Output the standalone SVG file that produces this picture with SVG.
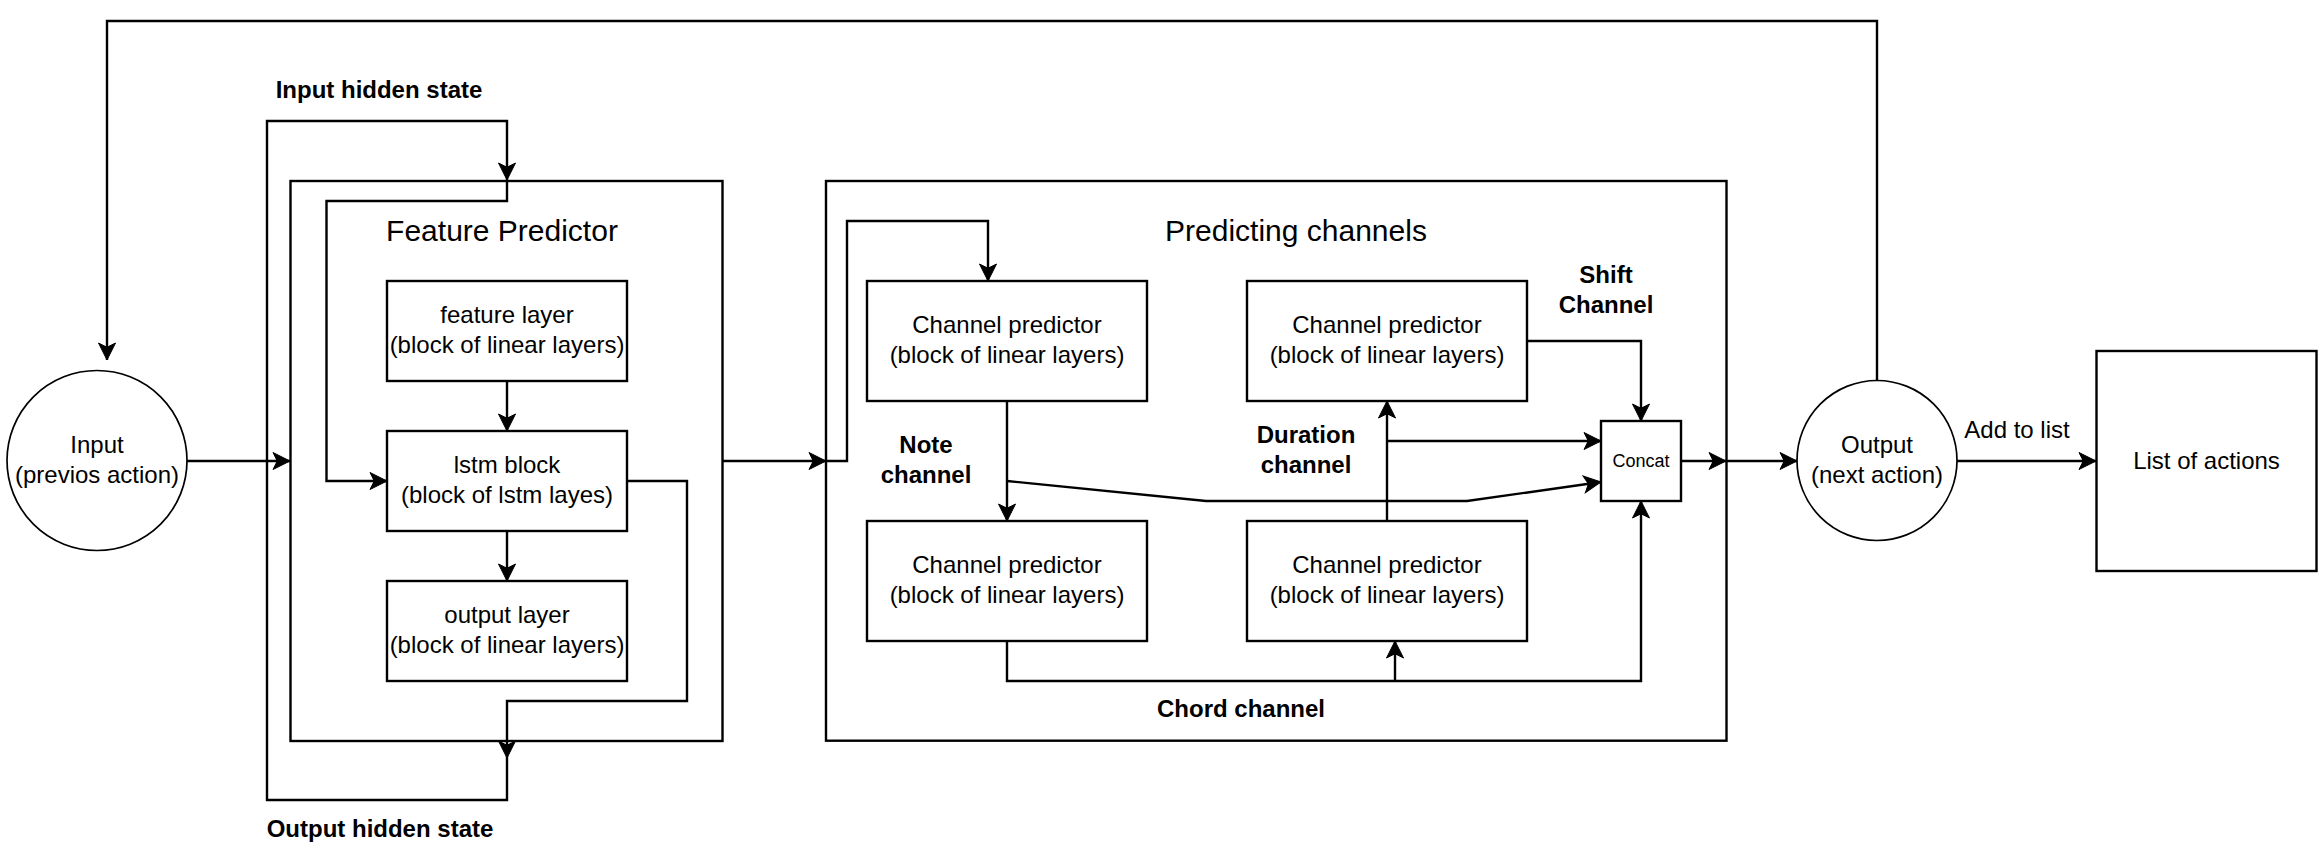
<svg xmlns="http://www.w3.org/2000/svg" width="2324" height="868" viewBox="0 0 2324 868">
<style>
.bx{fill:#fff;stroke:#000;stroke-width:2.4}
.el{fill:#fff;stroke:#000;stroke-width:1.7}
.ln{fill:none;stroke:#000;stroke-width:2.4;marker-end:url(#arr)}
.pl{fill:none;stroke:#000;stroke-width:2.4}
text{font-family:"Liberation Sans",Arial,sans-serif;fill:#000;text-anchor:middle}
.t{font-size:24px}
.b{font-size:24px;font-weight:bold}
.h{font-size:30px}
.s{font-size:18px}
</style>
<defs>
<marker id="arr" markerUnits="userSpaceOnUse" markerWidth="22" markerHeight="22" viewBox="-20 -11 22 22" refX="0" refY="0" orient="auto">
<path d="M0,0 L-17,-8.5 L-12.75,0 L-17,8.5 Z" fill="#000" stroke="#000" stroke-width="1"/>
</marker>
</defs>
<rect width="2324" height="868" fill="#fff"/>
<g id="feature-predictor">
<rect class="bx" x="290.5" y="181" width="432" height="560"/>
<text class="h" x="502" y="241">Feature Predictor</text>
</g>
<g id="predicting-channels">
<rect class="bx" x="826" y="181" width="900.5" height="559.7"/>
<text class="h" x="1296" y="241">Predicting channels</text>
</g>
<g id="connectors">
<path class="ln" d="M187,461 L290,461"/>
<path class="ln" d="M507,381 L507,431"/>
<path class="ln" d="M507,531 L507,581"/>
<path class="ln" d="M627,481 L687,481 L687,701 L507,701 L507,758"/>
<path class="ln" d="M507,758 L507,800 L267,800 L267,121 L507,121 L507,180"/>
<path class="ln" d="M507,181 L507,201 L326.5,201 L326.5,481 L387,481"/>
<path class="ln" d="M722.5,461 L826,461"/>
<path class="ln" d="M826,461 L847,461 L847,221 L988,221 L988,281"/>
<path class="ln" d="M1007,401 L1007,521"/>
<path class="ln" d="M1007,481 L1206,501 L1467,501 L1601,482"/>
<path class="ln" d="M1007,641 L1007,681 L1641,681 L1641,501"/>
<path class="ln" d="M1395,681 L1395,641"/>
<path class="ln" d="M1387,521 L1387,401"/>
<path class="ln" d="M1387,441 L1601,441"/>
<path class="ln" d="M1527,341 L1641,341 L1641,421"/>
<path class="ln" d="M1681,461 L1726,461"/>
<path class="ln" d="M1726,461 L1797,461"/>
<path class="ln" d="M1957,461 L2096,461"/>
<path class="ln" d="M1877,380 L1877,21 L107,21 L107,360"/>
</g>
<g id="input">
<circle class="el" cx="97" cy="460.5" r="90"/>
<text class="t" x="97" y="452.8">Input</text>
<text class="t" x="97" y="482.8">(previos action)</text>
</g>
<g id="feature-layer">
<rect class="bx" x="387" y="281" width="240" height="100"/>
<text class="t" x="507" y="323.3">feature layer</text>
<text class="t" x="507" y="353.3">(block of linear layers)</text>
</g>
<g id="lstm-block">
<rect class="bx" x="387" y="431" width="240" height="100"/>
<text class="t" x="507" y="473.3">lstm block</text>
<text class="t" x="507" y="503.3">(block of lstm layes)</text>
</g>
<g id="output-layer">
<rect class="bx" x="387" y="581" width="240" height="100"/>
<text class="t" x="507" y="623.3">output layer</text>
<text class="t" x="507" y="653.3">(block of linear layers)</text>
</g>
<g id="cp-note">
<rect class="bx" x="867" y="281" width="280" height="120"/>
<text class="t" x="1007" y="333.3">Channel predictor</text>
<text class="t" x="1007" y="363.3">(block of linear layers)</text>
</g>
<g id="cp-shift">
<rect class="bx" x="1247" y="281" width="280" height="120"/>
<text class="t" x="1387" y="333.3">Channel predictor</text>
<text class="t" x="1387" y="363.3">(block of linear layers)</text>
</g>
<g id="cp-chord">
<rect class="bx" x="867" y="521" width="280" height="120"/>
<text class="t" x="1007" y="573.3">Channel predictor</text>
<text class="t" x="1007" y="603.3">(block of linear layers)</text>
</g>
<g id="cp-duration">
<rect class="bx" x="1247" y="521" width="280" height="120"/>
<text class="t" x="1387" y="573.3">Channel predictor</text>
<text class="t" x="1387" y="603.3">(block of linear layers)</text>
</g>
<g id="concat">
<rect class="bx" x="1601" y="421" width="80" height="80"/>
<text class="s" x="1641" y="467.4">Concat</text>
</g>
<g id="output">
<circle class="el" cx="1877" cy="460.5" r="80"/>
<text class="t" x="1877" y="452.8">Output</text>
<text class="t" x="1877" y="482.8">(next action)</text>
</g>
<g id="list-of-actions">
<rect class="bx" x="2096.5" y="351" width="220" height="220"/>
<text class="t" x="2206.5" y="469">List of actions</text>
</g>
<g id="labels">
<text class="b" x="379" y="97.5">Input hidden state</text>
<text class="b" x="380" y="837">Output hidden state</text>
<text class="b" x="926" y="453.3">Note</text>
<text class="b" x="926" y="483.3">channel</text>
<text class="b" x="1306" y="443.3">Duration</text>
<text class="b" x="1306" y="473.3">channel</text>
<text class="b" x="1606" y="283.3">Shift</text>
<text class="b" x="1606" y="313.3">Channel</text>
<text class="b" x="1241" y="716.7">Chord channel</text>
<text class="t" x="2017" y="437.7">Add to list</text>
</g>
</svg>
